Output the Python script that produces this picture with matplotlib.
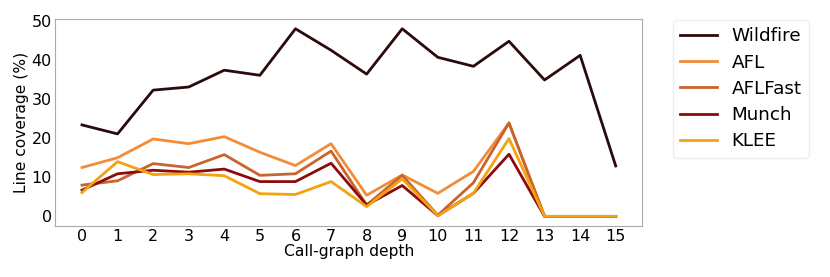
import matplotlib
matplotlib.use("Agg")
import matplotlib.pyplot as plt

depth = list(range(16))
series_names = ["Wildfire", "AFL", "AFLFast", "Munch", "KLEE"]
wildfire = [23.4, 21.1, 32.3, 33.1, 37.4, 36.1, 48.0, 42.5, 36.4, 48.0, 40.7, 38.4, 44.8, 34.9, 41.2, 12.9]
afl      = [12.5, 15.0, 19.8, 18.6, 20.4, 16.4, 13.0, 18.6, 5.4, 10.6, 5.9, 11.5, 23.9, 0, 0, 0]
aflfast  = [8.0, 9.1, 13.5, 12.5, 15.8, 10.5, 10.9, 16.7, 2.9, 10.5, 0.3, 8.6, 23.9, 0, 0, 0]
munch    = [6.7, 10.9, 11.8, 11.3, 12.1, 8.9, 8.9, 13.6, 2.9, 7.9, 0.2, 5.9, 15.9, 0, 0, 0]
klee     = [6.1, 14.0, 10.7, 10.9, 10.4, 5.8, 5.6, 8.9, 2.5, 9.6, 0.2, 5.9, 19.9, 0, 0, 0]
colors = ["#2a0a0a", "#f28c38", "#c8642e", "#8b0b0b", "#f4a20e"]

fig = plt.figure(figsize=(8.3, 2.77), dpi=100)
ax = fig.add_axes([0.0666, 0.185, 0.7074, 0.745])
for name, vals, c in zip(series_names, [wildfire, afl, aflfast, munch, klee], colors):
    ax.plot(depth, vals, color=c, lw=2, label=name)

ax.set_xticks(depth)
ax.set_yticks([0, 10, 20, 30, 40, 50])
ax.tick_params(length=0, labelsize=11.5, pad=2.5)
for s in ax.spines.values():
    s.set_color("#aaaaaa")
ax.set_xlabel("Call-graph depth", fontsize=11.2, labelpad=0)
ax.set_ylabel("Line coverage (%)", fontsize=11.2, labelpad=2)
ax.legend(loc="upper left", bbox_to_anchor=(1.052, 0.997), borderaxespad=0,
          fontsize=13.2, handlelength=2.0, labelspacing=0.45, framealpha=1,
          edgecolor="#eeeeee")
fig.savefig("out.png", dpi=100)
